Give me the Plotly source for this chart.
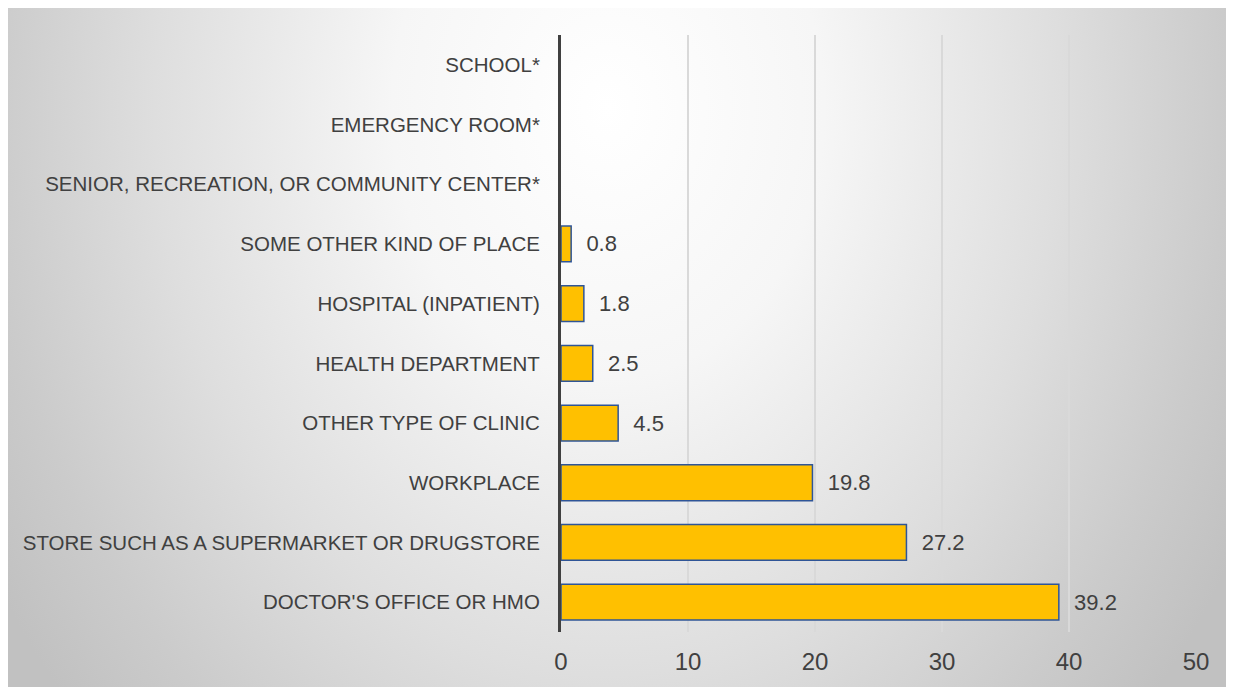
import base64
import plotly.graph_objects as go

categories = [
    "SCHOOL*",
    "EMERGENCY ROOM*",
    "SENIOR, RECREATION, OR COMMUNITY CENTER*",
    "SOME OTHER KIND OF PLACE",
    "HOSPITAL (INPATIENT)",
    "HEALTH DEPARTMENT",
    "OTHER TYPE OF CLINIC",
    "WORKPLACE",
    "STORE SUCH AS A SUPERMARKET OR DRUGSTORE",
    "DOCTOR'S OFFICE OR HMO",
]
values = [None, None, None, 0.8, 1.8, 2.5, 4.5, 19.8, 27.2, 39.2]
x_ticks = [0, 10, 20, 30, 40, 50]

labels = ["" if v is None else "\u00a0\u00a0" + f"{v:.1f}" for v in values]

# page has an 8px body margin; figure sized to fill the rest of the window
W, H = 1226, 679
L, R, T, B = 553, 1188, 27, 624
pw, ph = R - L, B - T

FONT = "'Liberation Sans', Arial, sans-serif"

svg = f'''<svg xmlns="http://www.w3.org/2000/svg" width="{W}" height="{H}" viewBox="0 0 {W} {H}" preserveAspectRatio="none">
<defs><radialGradient id="g" gradientUnits="userSpaceOnUse" cx="0" cy="0" r="1" gradientTransform="translate(600,100) scale(720,900)">
<stop offset="0" stop-color="#ffffff"/>
<stop offset="0.3" stop-color="#f6f6f6"/>
<stop offset="0.63" stop-color="#dedede"/>
<stop offset="0.86" stop-color="#cbcbcb"/>
<stop offset="1" stop-color="#c1c1c1"/>
</radialGradient></defs>
<rect x="0" y="0" width="{W}" height="{H}" fill="url(#g)"/>
</svg>'''
src = "data:image/svg+xml;base64," + base64.b64encode(svg.encode()).decode()

fig = go.Figure()
fig.add_trace(go.Bar(
    y=categories,
    x=values,
    orientation="h",
    width=0.6,
    marker=dict(color="#FFC000", line=dict(color="#2F5597", width=1.5)),
    text=labels,
    textposition="outside",
    cliponaxis=False,
    textfont=dict(family=FONT, size=22, color="#404040"),
    hoverinfo="skip",
))

fig.update_layout(
    width=W,
    height=H,
    margin=dict(l=L, r=W - R, t=T, b=H - B, autoexpand=False),
    paper_bgcolor="#d0d0d0",
    plot_bgcolor="rgba(0,0,0,0)",
    showlegend=False,
    font=dict(family=FONT, size=21, color="#404040"),
    images=[dict(
        source=src,
        xref="paper", yref="paper",
        x=-L / pw, y=B / ph,
        sizex=W / pw, sizey=H / ph,
        sizing="stretch",
        xanchor="left", yanchor="top",
        layer="below",
    )],
)

fig.update_xaxes(
    range=[0, 50],
    tickvals=x_ticks,
    ticktext=[str(t) for t in x_ticks],
    showgrid=True,
    gridcolor="#d9d9d9",
    gridwidth=1.5,
    zeroline=False,
    showline=False,
    ticks="",
    ticklabelstandoff=13,
    tickfont=dict(family=FONT, size=24, color="#404040"),
)
fig.update_yaxes(
    categoryorder="array",
    categoryarray=categories,
    autorange="reversed",
    showgrid=False,
    zeroline=False,
    showline=True,
    linecolor="#404040",
    linewidth=3,
    ticks="",
    ticklabelstandoff=14,
    tickfont=dict(family=FONT, size=20.5, color="#404040"),
)

fig.write_html("out.html")
